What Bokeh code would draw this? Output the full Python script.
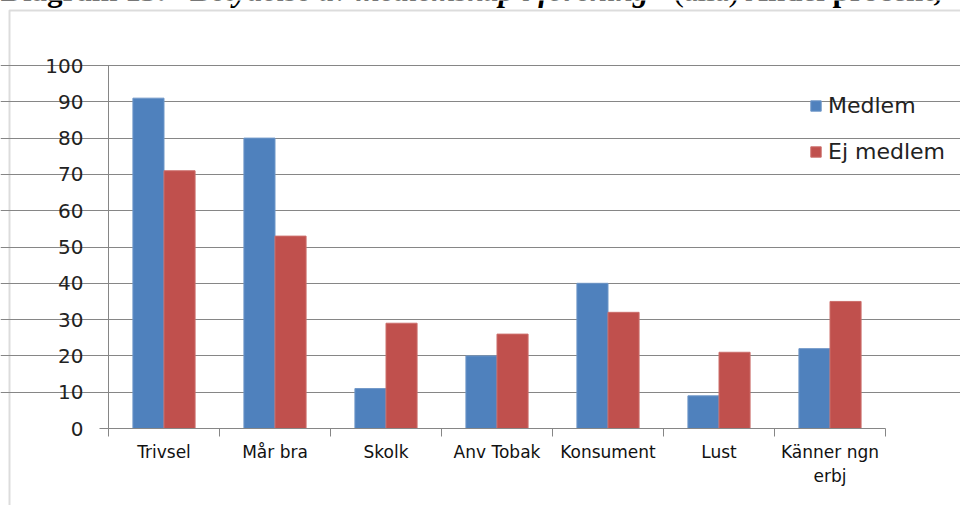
import numpy as np
from bokeh.plotting import figure
from bokeh.models import (ColumnDataSource, Range1d, FixedTicker, Legend, LegendItem,
                          BoxAnnotation, Label)
from bokeh.transform import dodge
from bokeh.embed import file_html
from bokeh.resources import INLINE

categories = ["Trivsel", "Mår bra", "Skolk", "Anv Tobak", "Konsument", "Lust", "Känner ngn\nerbj"]
medlem = [91, 80, 11, 20, 40, 9, 22]
ej_medlem = [71, 53, 29, 26, 32, 21, 35]
y_ticks = [0, 10, 20, 30, 40, 50, 60, 70, 80, 90, 100]
series_names = ["Medlem", "Ej medlem"]
caption_parts = ["Diagram 13:", "Betydelse av medlemskap i förening", "(alla)", "Andel procent,"]

BLUE = "#4F81BD"
RED = "#C0504D"
GRAY = "#868686"
FONT = "DejaVu Sans"

W, H = 960, 505
ORIGIN_X, ORIGIN_Y = 108, 428      # pixel position of (0, 0)
PX_PER_CAT = 111.0
PX_PER_UNIT = 3.63
ncat = len(categories)

def xd(px):
    return (px - ORIGIN_X) / PX_PER_CAT

def yd(py):
    return (ORIGIN_Y - py) / PX_PER_UNIT

pos = np.arange(ncat) + 0.5
src = ColumnDataSource(dict(x=pos, medlem=medlem, ej=ej_medlem))

p = figure(width=W, height=H, output_backend="svg", toolbar_location=None,
           x_range=Range1d(xd(0), xd(W)), y_range=Range1d(yd(H), yd(0)),
           min_border=0)
p.outline_line_color = None

# outer chart border
p.add_layout(BoxAnnotation(left=xd(9), right=xd(W + 50), top=yd(10), bottom=yd(H + 50),
                           fill_alpha=0, line_color="#8c8c8c", line_width=2))

r1 = p.vbar(x=dodge("x", -0.14, range=p.x_range), top="medlem", width=0.28, source=src,
            fill_color=BLUE, line_color="#6f97c8", line_width=1)
r2 = p.vbar(x=dodge("x", 0.14, range=p.x_range), top="ej", width=0.28, source=src,
            fill_color=RED, line_color="#cc6e6b", line_width=1)

ya = p.yaxis[0]
ya.fixed_location = 0
ya.ticker = FixedTicker(ticks=y_ticks)
ya.bounds = (0, 100)
ya.axis_line_color = GRAY
ya.major_tick_line_color = GRAY
ya.major_tick_out = 9
ya.major_tick_in = 0
ya.minor_tick_line_color = None
ya.major_label_text_font = FONT
ya.major_label_text_font_size = "20px"
ya.major_label_text_color = "#222222"
ya.major_label_standoff = 16

xa = p.xaxis[0]
xa.fixed_location = 0
xa.ticker = FixedTicker(ticks=list(pos), minor_ticks=list(range(ncat + 1)))
xa.bounds = (0, ncat)
xa.major_label_overrides = {float(v): c for v, c in zip(pos, categories)}
xa.axis_line_color = GRAY
xa.major_tick_line_color = None
xa.major_tick_out = 0
xa.major_tick_in = 0
xa.minor_tick_line_color = GRAY
xa.minor_tick_out = 8
xa.minor_tick_in = 0
xa.major_label_text_font = FONT
xa.major_label_text_font_size = "17px"
xa.major_label_text_color = "#111111"
xa.major_label_standoff = 5

p.xgrid.grid_line_color = None
p.ygrid.grid_line_color = GRAY
p.ygrid.grid_line_width = 1
p.ygrid.bounds = (0, ncat)
p.ygrid.ticker = FixedTicker(ticks=y_ticks[1:])

legend = Legend(items=[LegendItem(label=series_names[0], renderers=[r1]),
                       LegendItem(label=series_names[1], renderers=[r2])],
                location=(809, H - 164), orientation="vertical",
                glyph_width=13, glyph_height=13, label_height=21, spacing=21,
                label_standoff=6, padding=0, margin=0,
                label_text_font=FONT, label_text_font_size="22px", label_text_color="#222222",
                background_fill_alpha=0, border_line_color=None)
p.add_layout(legend, "center")

# caption above the chart, cut off by the top edge of the picture
caption_style = [("bold", 0), ("bold italic", 190), ("normal", 673), ("bold", 745)]
for txt, (style, px) in zip(caption_parts, caption_style):
    p.add_layout(Label(x=xd(px), y=yd(-10), text=txt, text_font="Liberation Serif",
                       text_font_style=style, text_font_size="31px", text_color="black",
                       text_baseline="alphabetic"))

open("out.html", "w").write(file_html(p, INLINE))
